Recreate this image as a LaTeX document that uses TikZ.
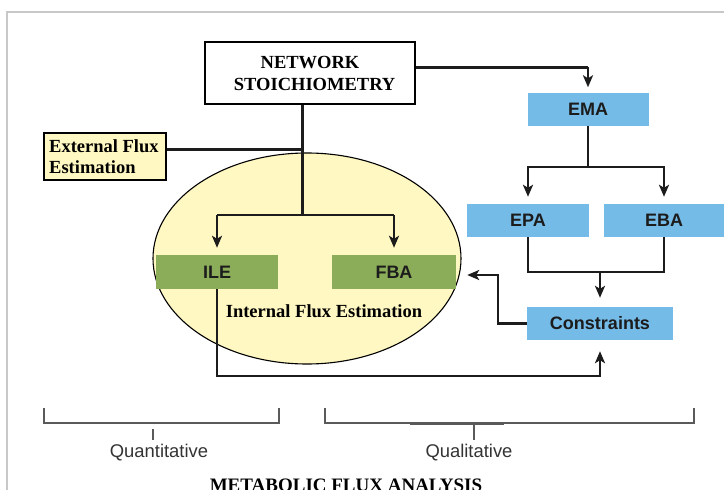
\documentclass[tikz,border=0pt]{standalone}
\usepackage{fontspec}
\setmainfont{Liberation Serif}
\setsansfont{Liberation Sans}
\usetikzlibrary{arrows.meta,shapes.geometric}

\definecolor{boxblue}{HTML}{74BBE8}
\definecolor{boxgreen}{HTML}{8BAD59}
\definecolor{paleyellow}{HTML}{FFF8C2}
\definecolor{ink}{HTML}{1C1C1C}
\definecolor{framegrey}{HTML}{C8C8C8}
\definecolor{bracketgrey}{HTML}{5A5A5A}
\definecolor{labelgrey}{HTML}{333333}

\tikzset{
  serifbold/.style={font=\fontsize{18.5}{23}\selectfont\bfseries, text=black},
  blockbox/.style={minimum height=33pt, inner sep=0pt,
    font=\sffamily\bfseries\fontsize{18}{20}\selectfont, text=ink},
  bluebox/.style={blockbox, fill=boxblue},
  greenbox/.style={blockbox, fill=boxgreen},
  conn/.style={draw=ink, line width=2.2pt},
  arr/.style={conn, -{Stealth[length=12pt,width=10pt,inset=3pt]}, shorten >=7pt},
  heavy/.style={draw=ink, line width=3pt},
  bracket/.style={draw=bracketgrey, line width=1.2pt},
  scalelabel/.style={font=\sffamily\fontsize{18.4}{20}\selectfont, text=labelgrey},
}

\begin{document}
\begin{tikzpicture}[x=1pt, y=-1pt]
  \useasboundingbox (0,0) rectangle (724,490);

  % page frame
  \draw[framegrey, line width=1.5pt] (7,490) -- (7,12) -- (724,12);

  % internal flux estimation region
  \node[ellipse, draw=black, line width=1.1pt, fill=paleyellow,
        minimum width=308pt, minimum height=211pt, inner sep=0pt] (ell) at (307,258.5) {};

  % boxes
  \node[draw=black, line width=1.5pt, fill=white, minimum width=210pt, minimum height=62pt,
        inner sep=0pt, align=center, serifbold] (net) at (310,73)
        {NETWORK\\[-1pt]\ \ STOICHIOMETRY};
  \node[draw=black, line width=1.3pt, fill=paleyellow, minimum width=122pt, minimum height=47pt,
        inner sep=0pt, serifbold] (ext) at (105,156.5) {};
  \node[serifbold, anchor=west, align=left, inner sep=0pt] (exttext) at (49,156.5)
        {External Flux\\[-2pt]Estimation};

  \node[bluebox, minimum width=121pt] (ema) at (588,109) {EMA};
  \node[bluebox, minimum width=122pt] (epa) at (528,220.5) {EPA};
  \node[bluebox, minimum width=120pt] (eba) at (664,220.5) {EBA};
  \node[bluebox, minimum width=146pt] (con) at (600,323.5) {Constraints};

  \node[greenbox, minimum width=122pt, minimum height=34pt] (ile) at (217,272) {ILE};
  \node[greenbox, minimum width=124pt, minimum height=34pt] (fba) at (394,272) {FBA};

  \node[serifbold, inner sep=0pt] (inttext) at (324,311) {Internal Flux Estimation};

  % routing points
  \coordinate (c1) at (590,67);
  \coordinate (c2) at (590,167);
  \coordinate (c3) at (600,272);
  \coordinate (c4) at (498,275);
  \coordinate (c5) at (302,215);
  \coordinate (c6) at (217,376);
  \coordinate (netout) at ([yshift=6pt]net.east);
  \coordinate (extout) at ([yshift=7.5pt]ext.east);

  % stoichiometry -> EMA
  \draw[heavy] (netout) -- (ema.north |- c1);
  \draw[arr, shorten >=5pt] (ema.north |- c1) -- (ema.north);

  % EMA -> EPA, EBA
  \draw[arr] (ema.south) -- (ema.south |- c2) -| (epa.north);
  \draw[arr] (ema.south |- c2) -| (eba.north);

  % EPA, EBA -> Constraints
  \draw[conn] (epa.south) |- (eba.south |- c3) -- (eba.south);
  \draw[arr, shorten >=9pt] (con.north |- c3) -- (con.north);

  % Constraints -> FBA
  \draw[arr, shorten >=11pt] (con.west) -| (c4) -- (fba.east |- c4);

  % stoichiometry and external fluxes -> ILE, FBA
  \draw[heavy] (c5 |- net.south) -- (c5);
  \draw[heavy] (extout) -- (c5 |- extout);
  \draw[conn] (ile.north |- c5) -- (fba.north |- c5);
  \draw[arr] (ile.north |- c5) -- (ile.north);
  \draw[arr] (fba.north |- c5) -- (fba.north);

  % ILE -> Constraints
  \draw[arr, shorten >=11pt] (ile.south) -- (c6) -| (con.south);

  % classification brackets
  \draw[bracket] (44,408) -- (44,423) -- (279,423) -- (279,408);
  \draw[bracket] (153,429) -- (153,440);
  \draw[bracket] (325,408) -- (325,423) -- (694,423) -- (694,408);
  \draw[draw=bracketgrey, line width=2.4pt] (410,424) -- (504,424);
  \draw[bracket] (474,424) -- (474,440);

  \node[scalelabel, inner sep=0pt] (quant) at (159,453) {Quantitative};
  \node[scalelabel, inner sep=0pt] (qual) at (469,453) {Qualitative};

  \node[font=\fontsize{19}{21}\selectfont\bfseries, anchor=base, inner sep=0pt] (mfa) at (346,491)
        {METABOLIC FLUX ANALYSIS};
\end{tikzpicture}
\end{document}
